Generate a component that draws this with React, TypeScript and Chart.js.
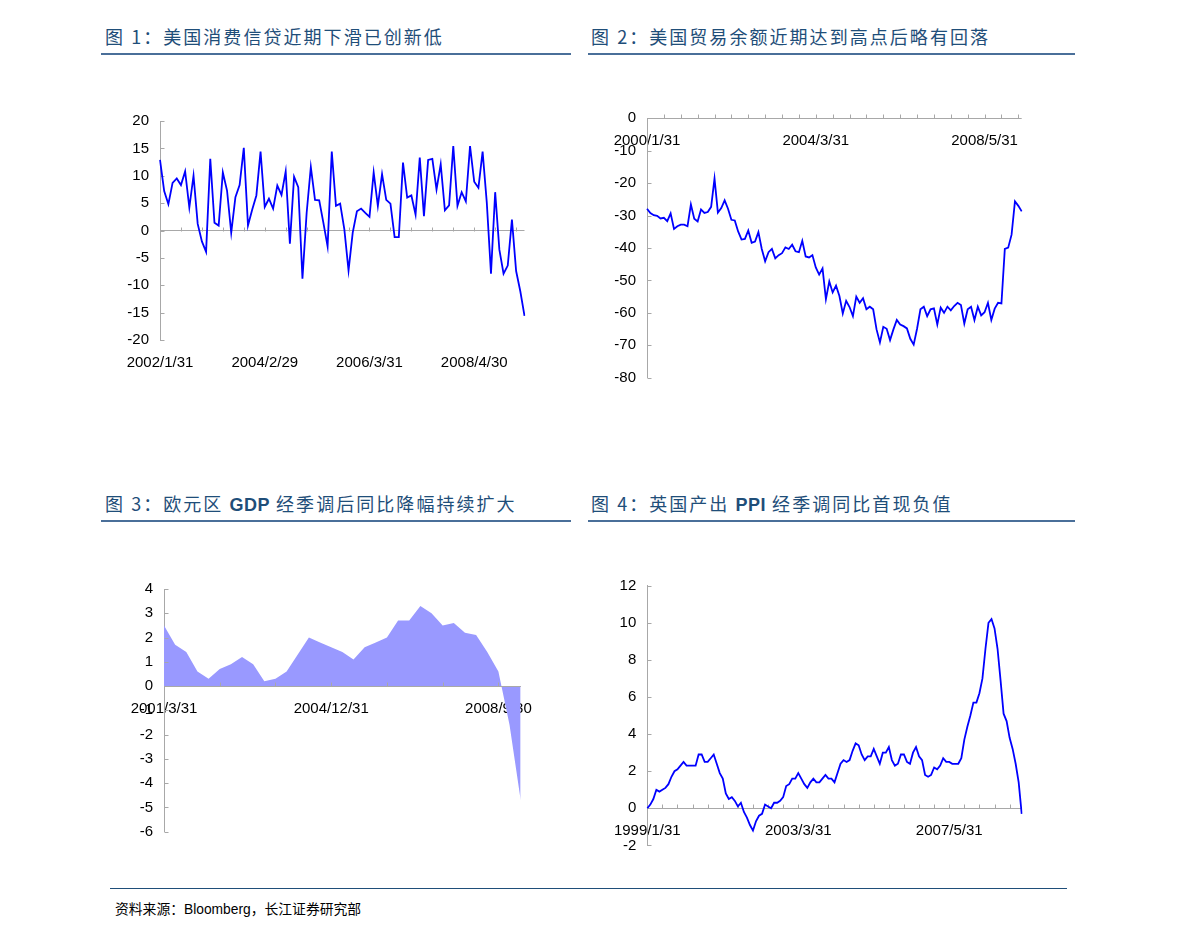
import React, { useEffect, useRef } from 'react';
import { Chart, registerables } from 'chart.js';

Chart.register(...registerables);

// ---------- data ----------
// Figure 1: US consumer credit (monthly, 2002/1 .. 2009/4)
const CREDIT_START = [2002, 1];
const CREDIT_TICKS = ['2002/1/31', '2004/2/29', '2006/3/31', '2008/4/30'];
const CREDIT_VALUES = [
  12.9, 7.2, 4.8, 8.7, 9.5, 8.3, 10.8, 4.2, 10.0, 1.2,
  -2.0, -3.9, 13.1, 1.4, 0.9, 10.6, 7.3, -0.4, 6.1, 8.3,
  15.1, 0.9, 3.8, 6.4, 14.4, 4.3, 5.8, 4.0, 8.2, 6.5,
  10.8, -2.4, 9.8, 7.9, -8.8, 3.2, 11.6, 5.6, 5.5, 1.4,
  -2.9, 14.4, 4.5, 4.9, 0.2, -7.3, -0.4, 3.5, 4.0, 3.2,
  2.5, 10.6, 4.5, 10.3, 5.6, 4.9, -1.2, -1.2, 12.4, 6.0,
  6.4, 2.9, 13.3, 2.6, 12.9, 13.1, 7.5, 12.1, 3.7, 4.6,
  15.4, 4.5, 7.0, 5.3, 15.4, 8.9, 7.8, 14.4, 5.1, -7.9,
  7.0, -3.5, -7.9, -6.4, 2.0, -7.4, -11.1, -15.6,
];

// Figure 2: US trade balance (monthly, 2000/1 .. 2009/4)
const TRADE_START = [2000, 1];
const TRADE_TICKS = ['2000/1/31', '2004/3/31', '2008/5/31'];
const TRADE_VALUES = [
  -27.9, -29.2, -29.9, -30.1, -30.9, -30.7, -31.7, -29.3, -34.1, -33.3,
  -32.8, -32.8, -33.3, -26.6, -31.0, -31.8, -28.1, -29.2, -28.9, -27.3,
  -18.6, -29.1, -27.7, -25.3, -27.9, -31.3, -31.5, -34.9, -37.4, -37.2,
  -34.6, -38.4, -38.0, -35.1, -40.3, -44.1, -41.3, -40.3, -43.2, -42.2,
  -41.6, -39.8, -40.3, -39.0, -41.0, -41.3, -37.8, -42.6, -42.9, -42.2,
  -46.0, -48.2, -46.3, -55.8, -50.3, -53.7, -51.6, -54.8, -60.2, -56.3,
  -58.2, -61.0, -55.0, -56.9, -55.5, -58.9, -58.1, -58.9, -65.1, -69.1,
  -64.3, -64.9, -68.4, -65.1, -62.2, -63.6, -64.1, -64.8, -68.0, -69.8,
  -64.9, -58.9, -58.1, -61.0, -58.9, -58.6, -63.6, -58.4, -60.0, -58.1,
  -59.2, -57.9, -56.9, -57.6, -63.3, -58.9, -58.1, -62.2, -58.1, -60.8,
  -59.8, -56.9, -62.2, -58.7, -56.9, -57.1, -40.3, -39.9, -35.9, -25.6,
  -27.0, -28.7,
];

// Figure 3: Euro area GDP yoy (quarterly, 2001Q1 .. 2009Q1)
const GDP_START = [2001, 3];
const GDP_TICKS = ['2001/3/31', '2004/12/31', '2008/9/30'];
const GDP_VALUES = [
  2.5, 1.7, 1.4, 0.6, 0.3, 0.7, 0.9, 1.2, 0.9, 0.2,
  0.3, 0.6, 1.3, 2.0, 1.8, 1.6, 1.4, 1.1, 1.6, 1.8,
  2.0, 2.7, 2.7, 3.3, 3.0, 2.5, 2.6, 2.2, 2.1, 1.4,
  0.6, -1.6, -4.7,
];

// Figure 4: UK output PPI yoy (monthly, 1999/1 .. 2009/5)
const PPI_START = [1999, 1];
const PPI_TICKS = ['1999/1/31', '2003/3/31', '2007/5/31'];
const PPI_VALUES = [
  0.0, 0.2, 0.5, 1.0, 0.9, 1.0, 1.1, 1.3, 1.7, 2.0,
  2.1, 2.3, 2.5, 2.3, 2.3, 2.3, 2.3, 2.9, 2.9, 2.5,
  2.5, 2.7, 2.9, 2.4, 1.9, 1.6, 0.8, 0.5, 0.6, 0.4,
  0.1, 0.3, -0.2, -0.5, -0.9, -1.2, -0.7, -0.4, -0.3, 0.2,
  0.1, 0.0, 0.3, 0.3, 0.4, 0.6, 1.2, 1.3, 1.6, 1.6,
  1.9, 1.6, 1.3, 1.1, 1.4, 1.6, 1.4, 1.4, 1.6, 1.8,
  1.6, 1.6, 1.4, 1.9, 2.4, 2.6, 2.5, 2.6, 3.1, 3.5,
  3.4, 2.9, 2.6, 2.8, 2.8, 3.2, 2.8, 2.4, 3.0, 3.0,
  3.3, 2.6, 2.3, 2.4, 2.9, 2.9, 2.5, 2.4, 3.0, 3.3,
  2.8, 2.6, 1.8, 1.7, 1.8, 2.2, 2.1, 2.3, 2.7, 2.5,
  2.5, 2.4, 2.4, 2.4, 2.7, 3.7, 4.4, 5.0, 5.7, 5.7,
  6.2, 7.0, 8.6, 10.0, 10.2, 9.7, 8.6, 6.9, 5.1, 4.7,
  3.8, 3.2, 2.4, 1.4, -0.3,
];

// ---------- helpers ----------
function periodEnds(start: number[], count: number, step: number): string[] {
  const out: string[] = [];
  for (let k = 0; k < count; k++) {
    const t = start[1] - 1 + k * step;
    const y = start[0] + Math.floor(t / 12);
    const m = (t % 12) + 1;
    const d = new Date(y, m, 0).getDate();
    out.push(`${y}/${m}/${d}`);
  }
  return out;
}

const AXIS = '#A8A8A8';
const TICK_FONT = { family: '"Liberation Sans", Arial, sans-serif', size: 15 };

function drawInner(chart: any, opts: any) {
  const { ctx, chartArea, scales } = chart;
  const x = scales.x;
  const y = scales.y;
  const zeroY = Math.round(y.getPixelForValue(0)) + 0.5;
  ctx.save();
  ctx.strokeStyle = AXIS;
  ctx.lineWidth = 1;
  ctx.beginPath();
  if (opts.zeroLine) {
    ctx.moveTo(chartArea.left, zeroY);
    ctx.lineTo(chartArea.right, zeroY);
  }
  const n = chart.data.labels.length;
  for (let i = opts.every; i < n; i += opts.every) {
    const px = Math.round(x.getPixelForValue(i)) + 0.5;
    ctx.moveTo(px, zeroY);
    ctx.lineTo(px, zeroY - 4);
  }
  const ax = Math.round(chartArea.left) + 0.5;
  for (const t of y.ticks) {
    const py = Math.round(y.getPixelForValue(t.value)) + 0.5;
    ctx.moveTo(ax, py);
    ctx.lineTo(ax + 4, py);
  }
  ctx.stroke();
  ctx.restore();
}

const innerTicks = {
  id: 'innerTicks',
  beforeDatasetsDraw(chart: any, _a: any, opts: any) {
    if (!opts.after) drawInner(chart, opts);
  },
  afterDatasetsDraw(chart: any, _a: any, opts: any) {
    if (opts.after) drawInner(chart, opts);
  },
};

type Spec = {
  left: number; top: number; width: number; height: number;
  padTop: number; padRight: number; padBottom: number;
  yWidth: number; xHeight: number; xAtZero: boolean;
  labels: string[]; ticks: string[]; values: number[];
  yMin: number; yMax: number; yStep: number; every: number; area: boolean;
};

function ChartBox({ spec }: { spec: Spec }) {
  const ref = useRef<HTMLCanvasElement | null>(null);
  useEffect(() => {
    if (!ref.current) return;
    const s = spec;
    const chart = new Chart(ref.current, {
      type: 'line',
      data: {
        labels: s.labels,
        datasets: [
          {
            data: s.values,
            borderColor: s.area ? '#9999FF' : '#0000FF',
            backgroundColor: '#9999FF',
            borderWidth: s.area ? 0 : 1.8,
            pointRadius: 0,
            fill: s.area ? 'origin' : false,
            tension: 0,
          },
        ],
      },
      options: {
        animation: false,
        responsive: false,
        devicePixelRatio: 1,
        events: [],
        layout: { padding: { left: 0, top: s.padTop, right: s.padRight, bottom: s.padBottom } },
        plugins: {
          legend: { display: false },
          tooltip: { enabled: false },
          innerTicks: { every: s.every, after: s.area, zeroLine: s.area },
        } as any,
        scales: {
          x: {
            type: 'category',
            position: (s.xAtZero ? { y: 0 } : 'bottom') as any,
            z: 1,
            grid: { display: false, drawTicks: false },
            border: { display: false },
            ticks: {
              autoSkip: false,
              maxRotation: 0,
              minRotation: 0,
              padding: 13.5,
              color: '#000',
              font: TICK_FONT,
              callback: (_v: any, i: number) => (s.ticks.includes(s.labels[i]) ? s.labels[i] : ''),
            },
            afterFit: (sc: any) => {
              sc.height = s.xHeight;
              sc.paddingTop = 0;
              sc.paddingBottom = 0;
            },
          },
          y: {
            min: s.yMin,
            max: s.yMax,
            ticks: { stepSize: s.yStep, padding: 11, color: '#000', font: TICK_FONT },
            grid: {
              drawTicks: false,
              color: (c: any) => (c.tick && c.tick.value === 0 ? AXIS : 'rgba(0,0,0,0)'),
            },
            border: { display: true, color: AXIS, width: 1 },
            afterFit: (sc: any) => {
              sc.width = s.yWidth;
              sc.paddingTop = 0;
              sc.paddingBottom = 0;
            },
          },
        },
      },
      plugins: [innerTicks as any],
    });
    return () => chart.destroy();
  }, [spec]);
  return (
    <canvas
      ref={ref}
      width={spec.width}
      height={spec.height}
      style={{ position: 'absolute', left: spec.left, top: spec.top, width: spec.width, height: spec.height }}
    />
  );
}

const SPECS: Spec[] = [
  {
    left: 100, top: 100, width: 440, height: 280,
    padTop: 21, padRight: 15.5, padBottom: 0, yWidth: 60, xHeight: 40, xAtZero: false,
    labels: periodEnds(CREDIT_START, CREDIT_VALUES.length, 1), ticks: CREDIT_TICKS, values: CREDIT_VALUES,
    yMin: -20, yMax: 20, yStep: 5, every: 5, area: false,
  },
  {
    left: 590, top: 95, width: 450, height: 305,
    padTop: 23.3, padRight: 18.3, padBottom: 22.3, yWidth: 57, xHeight: 0, xAtZero: true,
    labels: periodEnds(TRADE_START, TRADE_VALUES.length, 1), ticks: TRADE_TICKS, values: TRADE_VALUES,
    yMin: -80, yMax: 0, yStep: 10, every: 5, area: false,
  },
  {
    left: 100, top: 565, width: 450, height: 290,
    padTop: 24, padRight: 29.3, padBottom: 23.3, yWidth: 64, xHeight: 0, xAtZero: true,
    labels: periodEnds(GDP_START, GDP_VALUES.length, 3), ticks: GDP_TICKS, values: GDP_VALUES,
    yMin: -6, yMax: 4, yStep: 1, every: 5, area: true,
  },
  {
    left: 590, top: 565, width: 450, height: 305,
    padTop: 20.7, padRight: 18.3, padBottom: 24.6, yWidth: 57.3, xHeight: 0, xAtZero: true,
    labels: periodEnds(PPI_START, PPI_VALUES.length, 1), ticks: PPI_TICKS, values: PPI_VALUES,
    yMin: -2, yMax: 12, yStep: 2, every: 5, area: false,
  },
];

const TITLE_COLOR = '#1F4E79';
const CJK = '"Noto Sans CJK SC", "Noto Sans", sans-serif';

function Title({ left, top, children }: { left: number; top: number; children: React.ReactNode }) {
  return (
    <div
      style={{
        position: 'absolute', left, top, height: 20, lineHeight: '20px', whiteSpace: 'nowrap',
        fontFamily: CJK, fontSize: 18, letterSpacing: 2.05, color: TITLE_COLOR,
      }}
    >
      {children}
    </div>
  );
}

function Rule({ left, top, width, color, h }: { left: number; top: number; width: number; color: string; h: number }) {
  return <div style={{ position: 'absolute', left, top, width, height: h, background: color }} />;
}

const B = { fontFamily: '"Liberation Sans", Arial, sans-serif', fontWeight: 700, letterSpacing: 0.5 } as const;

export default function App() {
  return (
    <div style={{ position: 'absolute', left: 0, top: 0, width: 1190, height: 936, background: '#fff' }}>
      <Title left={105} top={26}>图 1：美国消费信贷近期下滑已创新低</Title>
      <Title left={591} top={26}>图 2：美国贸易余额近期达到高点后略有回落</Title>
      <Title left={105} top={493}>
        图 3：欧元区 <span style={B}>GDP</span> 经季调后同比降幅持续扩大
      </Title>
      <Title left={591} top={493}>
        图 4：英国产出 <span style={B}>PPI</span> 经季调同比首现负值
      </Title>
      <Rule left={101} top={53} width={470} color="#4A6F99" h={1.5} />
      <Rule left={588} top={53} width={487} color="#4A6F99" h={1.5} />
      <Rule left={101} top={520} width={470} color="#4A6F99" h={1.5} />
      <Rule left={588} top={520} width={487} color="#4A6F99" h={1.5} />
      {SPECS.map((s, i) => (
        <ChartBox key={i} spec={s} />
      ))}
      <Rule left={110} top={888} width={957} color="#1F4E79" h={1} />
      <div
        style={{
          position: 'absolute', left: 115, top: 899, lineHeight: '18px', whiteSpace: 'nowrap',
          fontFamily: CJK, fontSize: 13.8, color: '#000',
        }}
      >
        资料来源：<span style={{ fontFamily: '"Liberation Sans", Arial, sans-serif' }}>Bloomberg</span>，长江证券研究部
      </div>
    </div>
  );
}
